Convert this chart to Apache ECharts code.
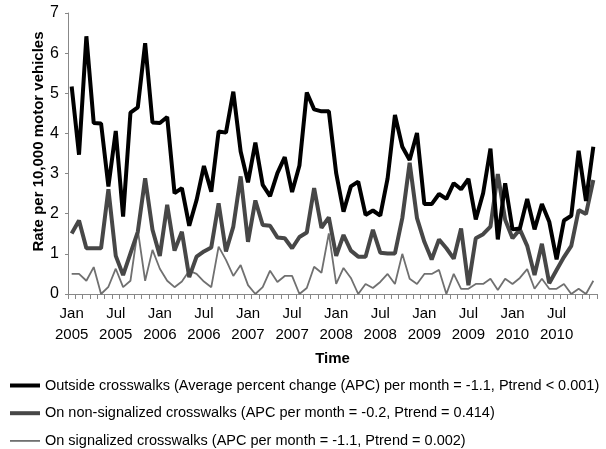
<!DOCTYPE html>
<html>
<head>
<meta charset="utf-8">
<script src="https://cdn.jsdelivr.net/npm/echarts@6/dist/echarts.min.js"></script>
<style>html,body{margin:0;padding:0;background:#fff}#c{width:606px;height:449px}</style>
</head>
<body>
<div id="c"></div>
<script>
var years = [2005, 2006, 2007, 2008, 2009, 2010];
var monthNames = ['Jan','Feb','Mar','Apr','May','Jun','Jul','Aug','Sep','Oct','Nov','Dec'];

var outside = [5.17,3.47,6.42,4.26,4.25,2.68,4.06,1.93,4.52,4.65,6.25,4.27,
  4.26,4.41,2.51,2.64,1.70,2.34,3.19,2.55,4.05,4.02,5.04,3.55,
  2.78,3.77,2.72,2.44,3.01,3.41,2.54,3.20,5.02,4.60,4.55,4.55,
  3.01,2.05,2.68,2.80,1.97,2.08,1.95,2.88,4.46,3.67,3.34,4.01,
  2.24,2.24,2.49,2.37,2.76,2.61,2.87,1.86,2.51,3.62,1.36,2.76,
  1.61,1.63,2.37,1.61,2.24,1.80,0.86,1.83,1.95,3.57,2.32,3.67];
var nonSignalized = [1.51,1.83,1.14,1.14,1.14,2.61,0.95,0.47,1.01,1.55,2.88,1.60,
  0.95,2.22,1.08,1.55,0.42,0.93,1.06,1.16,2.26,1.06,1.68,2.93,
  1.30,2.33,1.72,1.70,1.41,1.39,1.14,1.42,1.53,2.64,1.65,1.91,
  0.95,1.47,1.08,0.93,0.93,1.60,1.03,1.01,1.01,1.89,3.27,1.89,
  1.30,0.86,1.36,1.14,0.88,1.63,0.22,1.39,1.49,1.68,2.99,1.85,
  1.39,1.61,1.20,0.47,1.25,0.27,0.60,0.92,1.20,2.09,1.99,2.84];
var signalized = [0.50,0.50,0.33,0.67,0.00,0.18,0.63,0.17,0.33,1.60,0.33,1.10,
  0.63,0.33,0.17,0.31,0.58,0.50,0.31,0.17,1.18,0.85,0.45,0.72,
  0.22,0.00,0.17,0.58,0.30,0.45,0.45,0.00,0.15,0.68,0.53,1.51,
  0.25,0.65,0.40,0.00,0.25,0.15,0.30,0.50,0.25,1.00,0.38,0.25,
  0.50,0.50,0.60,0.00,0.50,0.13,0.13,0.25,0.25,0.38,0.10,0.38,
  0.25,0.40,0.62,0.13,0.38,0.13,0.13,0.25,0.00,0.13,0.00,0.33];

var seriesNames = [
  'Outside crosswalks (Average percent change (APC) per month = -1.1, Ptrend < 0.001)',
  'On non-signalized crosswalks (APC per month = -0.2, Ptrend = 0.414)',
  'On signalized crosswalks (APC per month = -1.1, Ptrend = 0.002)'
];
var seriesColors = ['#000000', '#474747', '#707070'];
var seriesWidths = [4, 4, 1.8];
var yTicks = [0,1,2,3,4,5,6,7];

var categories = [];
years.forEach(function(y){ monthNames.forEach(function(m){ categories.push(m + '\n' + y); }); });
var seriesData = [outside, nonSignalized, signalized];

var font = 'Liberation Sans, Arial, sans-serif';
var chart = echarts.init(document.getElementById('c'));
chart.setOption({
  animation: false,
  backgroundColor: '#fff',
  textStyle: {fontFamily: font},
  grid: {left: 68, right: 9, top: 13, bottom: 155, containLabel: false},
  xAxis: {
    type: 'category', data: categories, boundaryGap: true,
    name: 'Time', nameLocation: 'middle', nameGap: 57,
    nameTextStyle: {fontFamily: font, fontWeight: 'bold', fontSize: 15, color: '#000'},
    axisLine: {lineStyle: {color: '#888', width: 1}},
    axisTick: {show: true, interval: 0, length: 5, lineStyle: {color: '#888'}},
    axisLabel: {interval: 5, color: '#000', fontSize: 15, fontFamily: font, lineHeight: 21, margin: 9}
  },
  yAxis: {
    type: 'value', min: 0, max: 7, interval: 1,
    name: 'Rate per 10,000 motor vehicles', nameLocation: 'middle', nameGap: 22, nameRotate: 90,
    nameMoveOverlap: false,
    nameTextStyle: {fontFamily: font, fontWeight: 'bold', fontSize: 15, color: '#000', padding: [0, 0, 0, 24]},
    axisLine: {show: true, lineStyle: {color: '#888', width: 1}},
    axisTick: {show: true, length: 3, lineStyle: {color: '#888'}},
    splitLine: {show: false},
    axisLabel: {color: '#000', fontSize: 16, fontFamily: font, margin: 9,
      formatter: function(v){ return yTicks.indexOf(v) >= 0 ? String(v) : ''; }}
  },
  legend: {
    orient: 'vertical', left: 8, top: 378, padding: 0,
    itemWidth: 30, itemHeight: 14, itemGap: 12.7,
    itemStyle: {opacity: 0},
    textStyle: {fontFamily: font, fontSize: 14.5, color: '#000'},
    data: seriesNames.map(function(n, i){
      return {name: n, lineStyle: {width: seriesWidths[i], color: seriesColors[i]}};
    })
  },
  series: seriesNames.map(function(n, i){
    return {name: n, type: 'line', data: seriesData[i], symbol: 'none', z: 3 - i,
      lineStyle: {color: seriesColors[i], width: seriesWidths[i]}, itemStyle: {color: seriesColors[i]}};
  })
});
</script>
</body>
</html>
